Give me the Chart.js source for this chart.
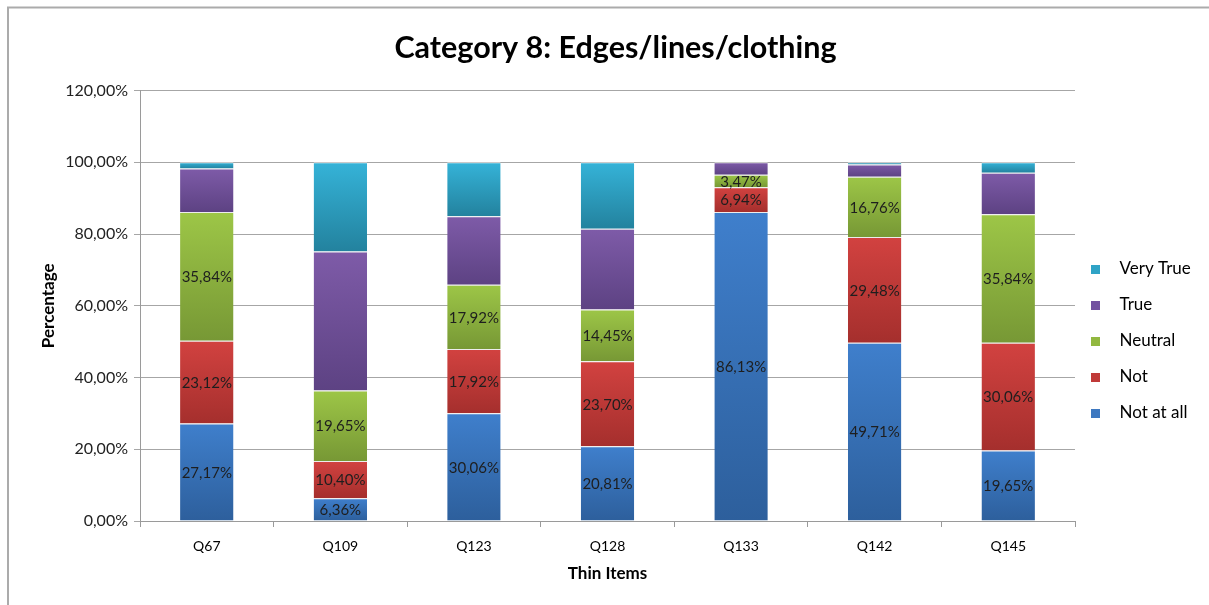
<!DOCTYPE html>
<html>
<head>
<meta charset="utf-8">
<script src="https://cdn.jsdelivr.net/npm/chart.js@4/dist/chart.umd.min.js"></script>
<style>
html,body{margin:0;padding:0;background:#fff;}
#wrap{position:relative;width:1209px;height:605px;}
</style>
</head>
<body>
<div id="wrap"><canvas id="c" width="1209" height="605"></canvas></div>
<script>
const categories = ['Q67','Q109','Q123','Q128','Q133','Q142','Q145'];
const notAtAll = [27.17, 6.36, 30.06, 20.81, 86.13, 49.71, 19.65];
const notVal   = [23.12, 10.40, 17.92, 23.70, 6.94, 29.48, 30.06];
const neutral  = [35.84, 19.65, 17.92, 14.45, 3.47, 16.76, 35.84];
const trueVal  = [12.14, 38.73, 19.07, 22.54, 3.47, 3.47, 11.56];
const veryTrue = [1.73, 24.86, 15.03, 18.50, 0, 0.58, 2.89];
const seriesNames = ['Not at all','Not','Neutral','True','Very True'];
const yTicks = [0,20,40,60,80,100,120];

const FONT = 'Lato, "Open Sans", sans-serif';
const colTop = ['#3F7FCC','#D24240','#9DC647','#7E5BA8','#35B3D8'];
const colBot = ['#2D5F9C','#A52F2D','#779835','#5D4283','#23829E'];
const legendCol = ['#3D78C0','#C03A38','#92B840','#7352A0','#2FA3C6'];

function grad(i){
  return (ctx) => {
    const c = ctx.chart, a = c.chartArea;
    if (!a || ctx.dataIndex === undefined) return colTop[i];
    const y = c.scales.y; const di = ctx.dataIndex, si = ctx.datasetIndex;
    let s = 0;
    for (let k = 0; k < si; k++) s += c.data.datasets[k].data[di];
    const e = s + c.data.datasets[si].data[di];
    const y0 = y.getPixelForValue(e), y1 = y.getPixelForValue(s);
    if (!isFinite(y0) || !isFinite(y1) || y1 - y0 < 1) return colTop[i];
    const g = c.ctx.createLinearGradient(0, y0, 0, y1);
    g.addColorStop(0, colTop[i]); g.addColorStop(1, colBot[i]);
    return g;
  };
}

function marker(color){
  const cv = document.createElement('canvas');
  cv.width = 20; cv.height = 9;
  const g = cv.getContext('2d');
  g.fillStyle = color; g.fillRect(0, 0, 9, 9);
  return cv;
}
const markers = legendCol.map(marker);

const allSeries = [notAtAll, notVal, neutral, trueVal, veryTrue];
const datasets = allSeries.map((d, i) => ({
  label: seriesNames[i],
  data: d,
  backgroundColor: grad(i),
  borderColor: 'rgba(235,235,235,0.9)',
  borderWidth: {top: 1, bottom: 0, left: 0, right: 0},
  borderSkipped: false,
  barPercentage: 0.4,
  categoryPercentage: 1.0
}));

const frame = {
  id: 'frame',
  beforeDraw(chart) {
    const ctx = chart.ctx;
    ctx.save();
    ctx.fillStyle = '#fff';
    ctx.fillRect(0, 0, chart.width, chart.height);
    ctx.strokeStyle = '#ababab';
    ctx.lineWidth = 2;
    ctx.beginPath();
    ctx.moveTo(8, 605); ctx.lineTo(8, 7.5); ctx.lineTo(1209, 7.5);
    ctx.stroke();
    ctx.restore();
  }
};

const layoutFix = {
  id: 'layoutFix',
  beforeLayout(chart) {
    const l = chart.legend;
    if (!l || l._wrapped) return;
    const f = l.fit.bind(l);
    l.fit = function(){ f(); this.width = 134; };
    l._wrapped = true;
  },
  afterLayout(chart) {
    const l = chart.legend;
    if (l) { l.top += 37; l.bottom += 37; l.left -= 3; l.right -= 3; }
    const t = chart.titleBlock;
    if (t) { t.left -= 8; t.right -= 8; }
  }
};

const labelsPlugin = {
  id: 'segLabels',
  afterDatasetsDraw(chart) {
    const ctx = chart.ctx;
    ctx.save();
    ctx.font = '15px ' + FONT;
    ctx.fillStyle = '#1e1e1e';
    ctx.textAlign = 'center';
    ctx.textBaseline = 'middle';
    for (let si = 0; si < 3; si++) {
      const meta = chart.getDatasetMeta(si);
      meta.data.forEach((el, i) => {
        const v = chart.data.datasets[si].data[i];
        if (!v) return;
        const p = el.getProps(['x','y','base'], true);
        ctx.fillText(v.toFixed(2).replace('.', ',') + '%', p.x, (p.y + p.base) / 2 + 1);
      });
    }
    ctx.restore();
  }
};

new Chart(document.getElementById('c'), {
  type: 'bar',
  data: { labels: categories, datasets },
  plugins: [frame, layoutFix, labelsPlugin],
  options: {
    responsive: false,
    animation: false,
    layout: { padding: { left: 38, right: 0, top: 20, bottom: 17 } },
    plugins: {
      title: {
        display: true,
        text: 'Category 8: Edges/lines/clothing',
        font: { family: FONT, size: 30.5, weight: 'bold' },
        color: '#000',
        padding: { top: 10, bottom: 24 }
      },
      legend: {
        position: 'right',
        reverse: true,
        labels: {
          font: { family: FONT, size: 17 },
          color: '#000',
          usePointStyle: true,
          pointStyleWidth: 20,
          boxHeight: 9,
          padding: 19,
          generateLabels(chart) {
            const items = Chart.defaults.plugins.legend.labels.generateLabels(chart);
            items.forEach(it => {
              it.pointStyle = markers[it.datasetIndex];
              it.fillStyle = legendCol[it.datasetIndex];
              it.strokeStyle = legendCol[it.datasetIndex];
              it.lineWidth = 0;
            });
            return items;
          }
        }
      },
      tooltip: { enabled: false }
    },
    scales: {
      x: {
        stacked: true,
        grid: { display: true, drawOnChartArea: false, drawTicks: true, tickLength: 6, color: '#9a9a9a', offset: true },
        border: { display: true, color: '#9a9a9a' },
        ticks: { font: { family: FONT, size: 14 }, color: '#000', padding: 11 },
        title: { display: true, text: 'Thin Items', font: { family: FONT, size: 17, weight: 'bold' }, color: '#000', padding: { top: 4 } },
        afterFit(s) { s.height = 67; }
      },
      y: {
        stacked: true,
        min: 0, max: 120,
        afterBuildTicks(s) { s.ticks = yTicks.map(v => ({ value: v })); },
        grid: { color: '#a6a6a6', drawTicks: true, tickLength: 6 },
        border: { display: true, color: '#9a9a9a' },
        ticks: {
          font: { family: FONT, size: 16 }, color: '#222', padding: 6,
          callback: v => v.toFixed(2).replace('.', ',') + '%'
        },
        title: { display: true, text: 'Percentage', font: { family: FONT, size: 17, weight: 'bold' }, color: '#000', padding: { top: 0, bottom: 10 } },
        afterFit(s) { s.width = 102; }
      }
    }
  }
});
</script>
</body>
</html>
